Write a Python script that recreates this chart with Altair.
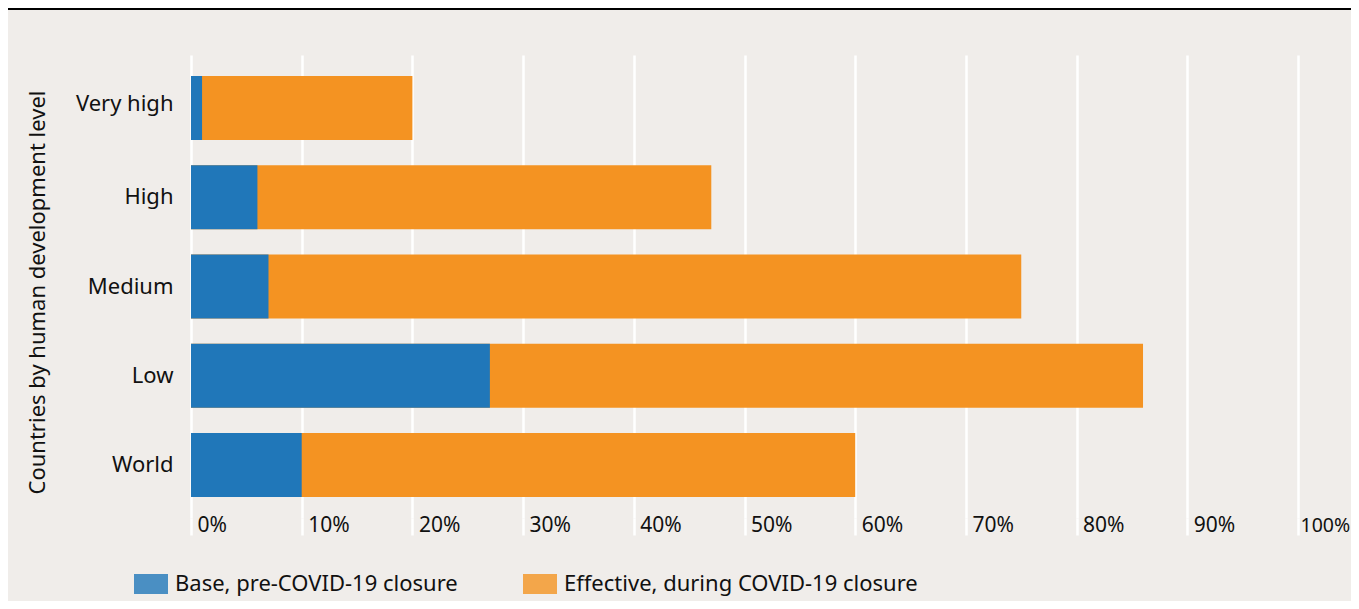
import altair as alt
import pandas as pd

categories = ["Very high", "High", "Medium", "Low", "World"]
base_values = [1, 6, 7, 27, 10]
effective_values = [20, 47, 75, 86, 60]
series_names = ["Base, pre-COVID-19 closure", "Effective, during COVID-19 closure"]
series_colors = ["#2077b9", "#f49322"]
x_ticks = list(range(0, 101, 10))

rows = []
for c, b, e in zip(categories, base_values, effective_values):
    rows.append({"level": c, "series": series_names[0], "value": b})
    rows.append({"level": c, "series": series_names[1], "value": e})
df = pd.DataFrame(rows)

FONT = "Noto Sans"
FS = 22
TXT = "#111111"

x_enc = alt.X(
    "value:Q",
    scale=alt.Scale(domain=[0, 100], nice=False),
    axis=alt.Axis(
        values=x_ticks,
        labelExpr="datum.value + '%'",
        title=None,
        domain=False,
        grid=True,
        gridColor="white",
        gridWidth=2.5,
        ticks=True,
        tickColor="white",
        tickWidth=2.5,
        tickSize=17,
        labelAlign="left",
        labelBaseline="middle",
        labelOffset={"condition": {"test": "datum.value >= 100", "value": 2}, "value": 6},
        labelPadding=-10,
        labelFontSize={"condition": {"test": "datum.value >= 100", "value": 19.5}, "value": 21},
        labelColor=TXT,
        labelFont=FONT,
    ),
)
y_enc = alt.Y(
    "level:N",
    sort=categories,
    scale=alt.Scale(paddingInner=0.283, paddingOuter=0.235),
    axis=alt.Axis(
        title="Countries by human development level",
        titleFont=FONT,
        titleFontSize=FS,
        titleFontWeight="normal",
        titleColor=TXT,
        titleX=-142,
        titleY=237,
        titleAngle=-90,
        titleAlign="center",
        titleBaseline="bottom",
        domain=False,
        ticks=False,
        labelPadding=18,
        labelOffset={"condition": {"test": "datum.value == 'Very high'", "value": -4}, "value": 0},
        labelFontSize=FS,
        labelColor=TXT,
        labelFont=FONT,
    ),
)
color_enc = alt.Color(
    "series:N",
    scale=alt.Scale(domain=series_names, range=series_colors),
    legend=alt.Legend(
        title=None,
        orient="none",
        direction="horizontal",
        legendX=-57,
        legendY=512,
        symbolType="M-1,-0.588H1V0.588H-1Z",
        symbolSize=1156,
        symbolStrokeWidth=0,
        symbolOpacity=0.8,
        labelFont=FONT,
        labelFontSize=FS,
        labelColor=TXT,
        labelOffset=7,
        labelLimit=600,
        columnPadding=65,
        padding=0,
    ),
)

eff = alt.Chart(df).transform_filter(
    alt.datum.series == series_names[1]
).mark_bar().encode(x=x_enc, y=y_enc, color=color_enc)

base = alt.Chart(df).transform_filter(
    alt.datum.series == series_names[0]
).mark_bar().encode(x=x_enc, y=y_enc, color=color_enc)

topband = alt.Chart(alt.Data(values=[{"k": 1}])).mark_rule(
    color="black", strokeWidth=4
).encode(x=alt.value(-190), x2=alt.value(1200), y=alt.value(-47))

chart = alt.layer(eff, base, topband).properties(
    width=1107,
    height=463,
    autosize=alt.AutoSizeParams(type="none"),
    padding={"left": 183, "top": 47, "right": 53, "bottom": 83},
    background="#f0edea",
).configure_view(stroke=None)

chart.save("out.html", embed_options={"renderer": "svg", "actions": False})
